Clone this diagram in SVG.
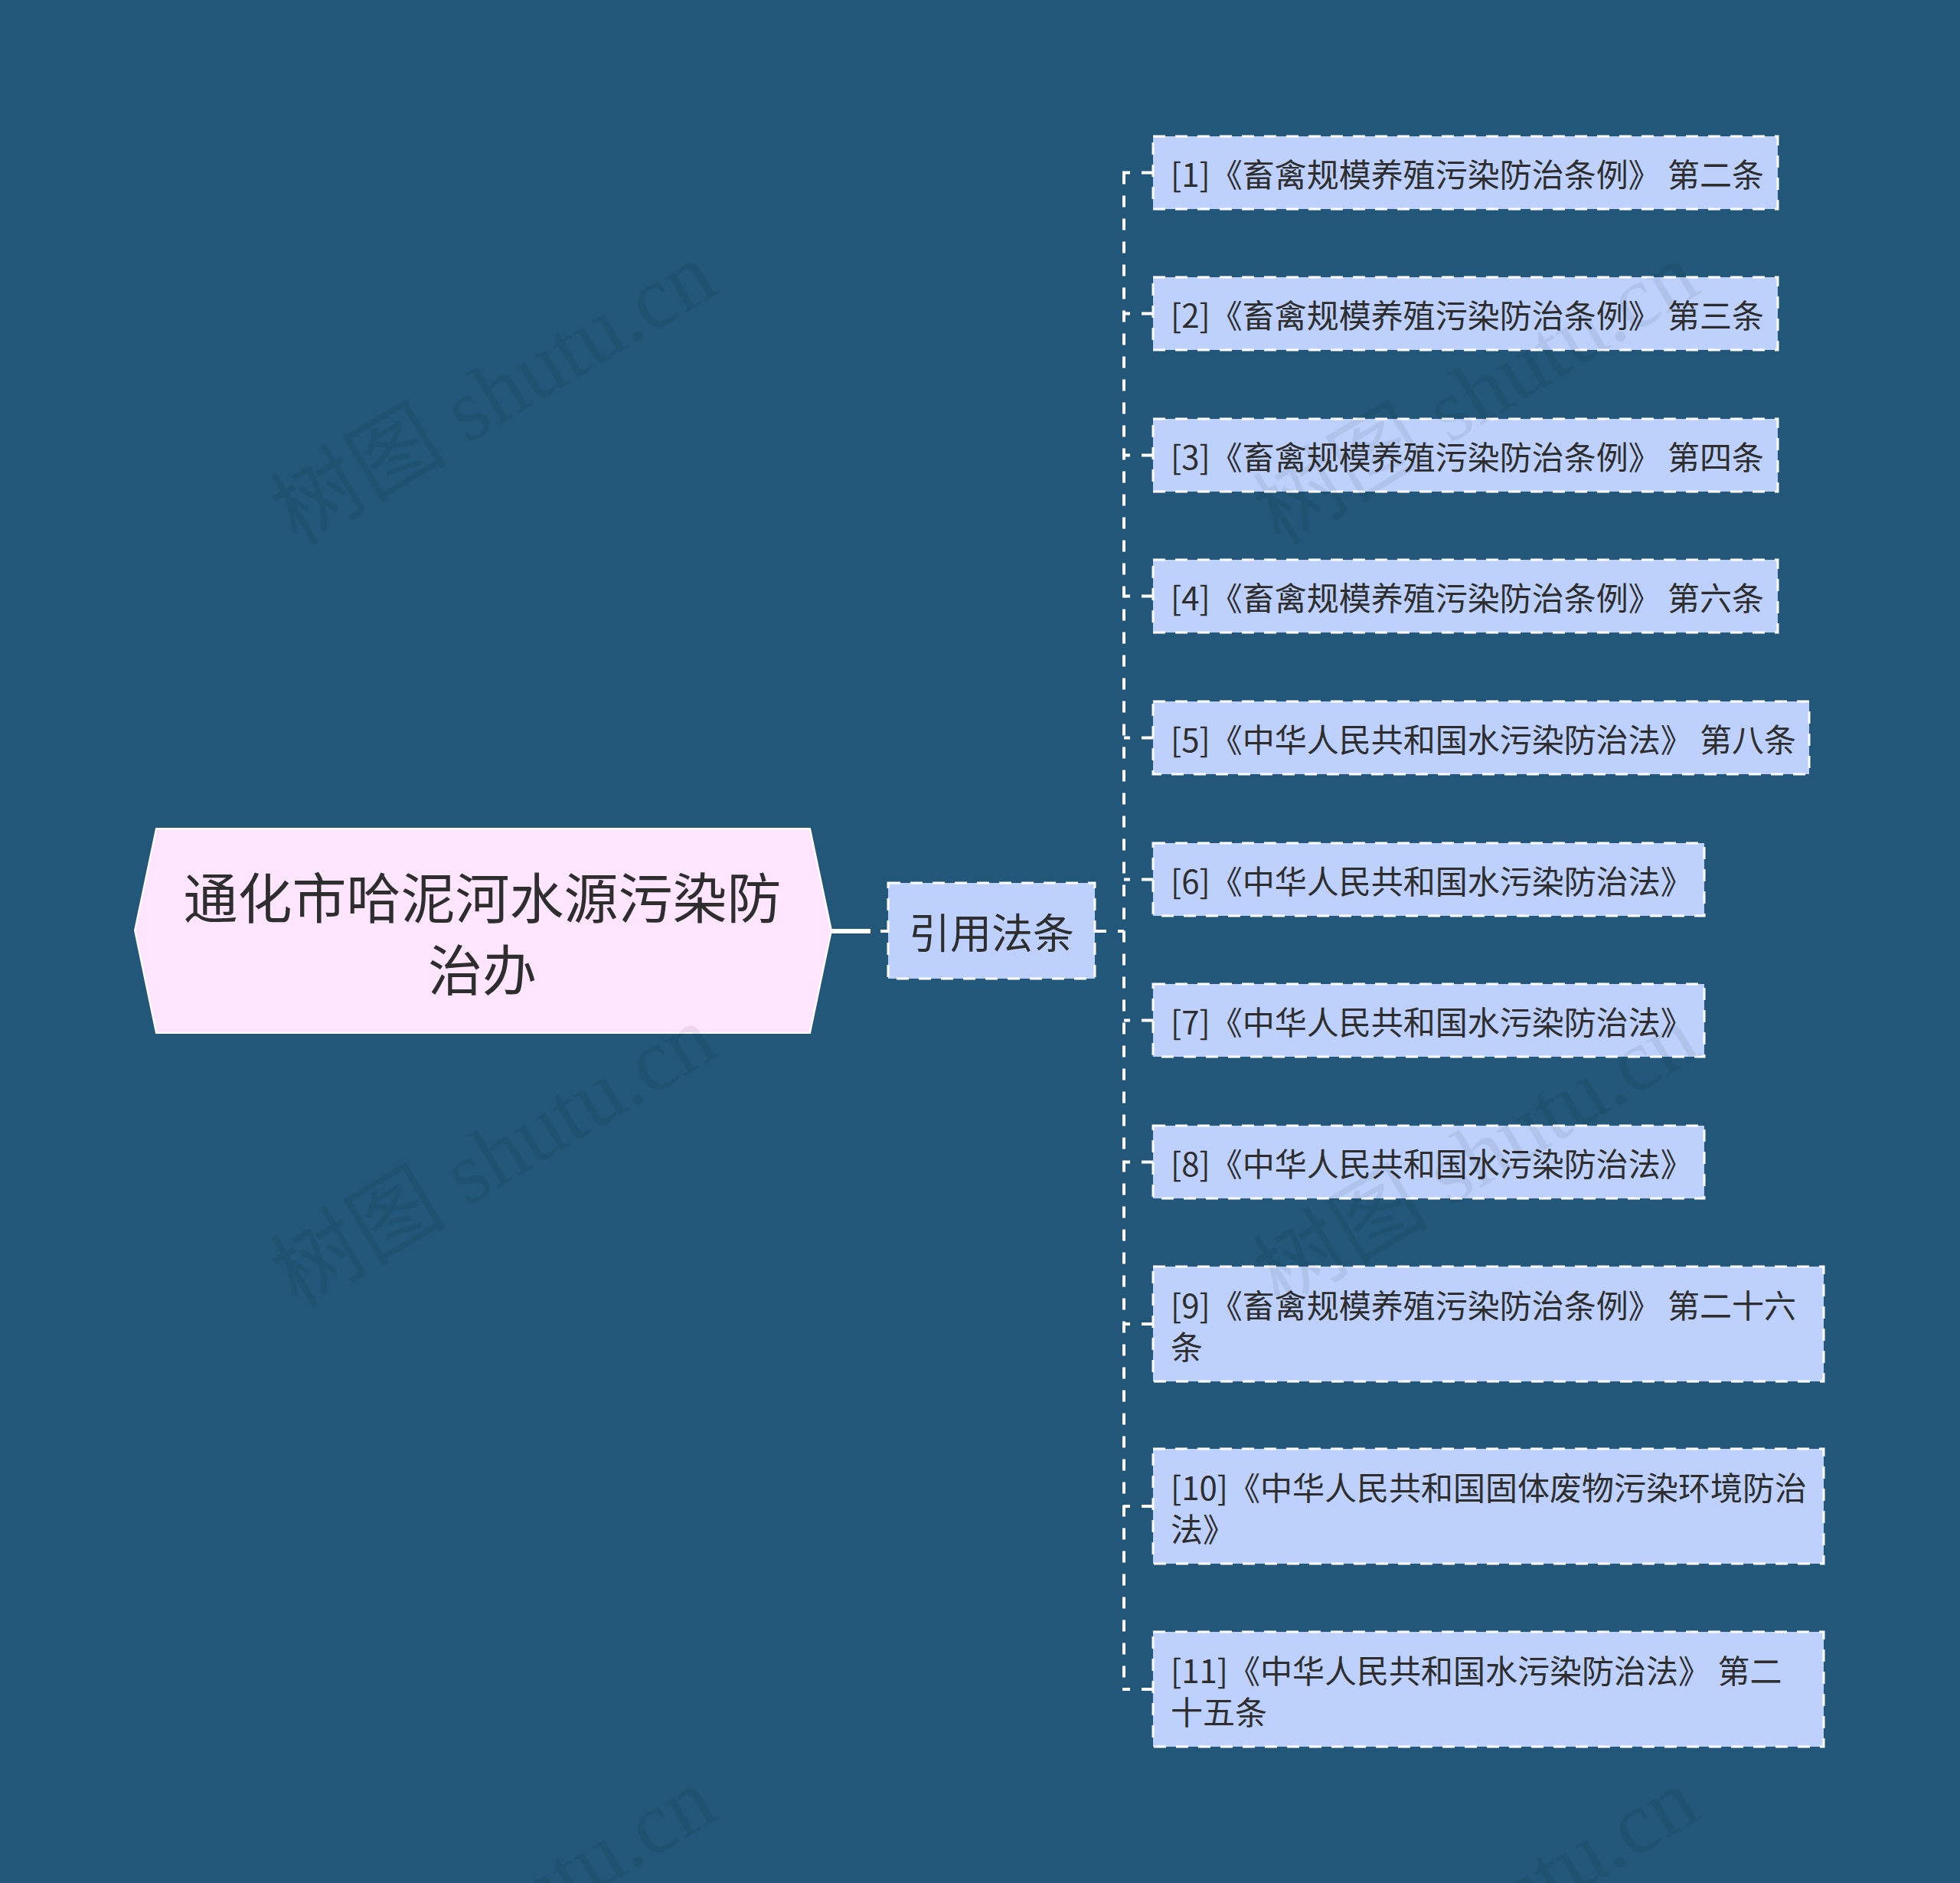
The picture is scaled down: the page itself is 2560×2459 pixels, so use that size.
<svg xmlns="http://www.w3.org/2000/svg" width="2560" height="2459" viewBox="0 0 2560 2459">
<style>
.bg{fill:#22577A}
.leaf{fill:#BDD1FC;stroke:#FFFFFF;stroke-width:3;stroke-dasharray:16 13}
.t{font-family:"Noto Sans CJK SC","Noto Sans",sans-serif;fill:#2E2E2E;dominant-baseline:central}
.lt{font-size:42px}
.conn{fill:none;stroke:#FFFFFF;stroke-width:4;stroke-dasharray:15 15}
.wm{font-family:"Liberation Serif","Noto Sans CJK SC",serif;font-size:115px;fill:#000000;fill-opacity:0.065;text-anchor:middle;dominant-baseline:central}
</style>
<rect class="bg" x="0" y="0" width="2560" height="2459"/>
<g id="connectors">
<line x1="1085" y1="1216" x2="1137" y2="1216" stroke="#FFFFFF" stroke-width="6"/>
<line x1="1150" y1="1216" x2="1160" y2="1216" stroke="#FFFFFF" stroke-width="4"/>
<path class="conn" d="M1430,1216 H1468"/>
<path class="conn" d="M1468,225.5 V2206"/>
<path class="conn" d="M1506,225.5 H1466"/>
<path class="conn" d="M1506,409.5 H1468"/>
<path class="conn" d="M1506,594.5 H1468"/>
<path class="conn" d="M1506,778.5 H1468"/>
<path class="conn" d="M1506,963.5 H1468"/>
<path class="conn" d="M1506,1148.5 H1468"/>
<path class="conn" d="M1506,1332.5 H1468"/>
<path class="conn" d="M1506,1517.5 H1468"/>
<path class="conn" d="M1506,1729 H1468"/>
<path class="conn" d="M1506,1967 H1468"/>
<path class="conn" d="M1506,2206 H1466"/>
</g>
<g id="root">
<polygon points="176,1215 204,1082 1058,1082 1086,1215 1058,1349 204,1349" fill="#FFE5FF" stroke="#FFFFFF" stroke-width="2"/>
<text class="t" font-size="71" text-anchor="middle" x="630" y="1168">通化市哈泥河水源污染防</text>
<text class="t" font-size="71" text-anchor="middle" x="630" y="1262">治办</text>
</g>
<g id="n-yinyong">
<rect class="leaf" x="1160" y="1153" width="270" height="125"/>
<text class="t" font-size="54" x="1295" y="1215" text-anchor="middle">引用法条</text>
</g>
<g id="c1">
<rect class="leaf" x="1506" y="178" width="816" height="95"/>
<text class="t lt" x="1529" y="225.5">[1]《畜禽规模养殖污染防治条例》 第二条</text>
</g>
<g id="c2">
<rect class="leaf" x="1506" y="362" width="816" height="95"/>
<text class="t lt" x="1529" y="409.5">[2]《畜禽规模养殖污染防治条例》 第三条</text>
</g>
<g id="c3">
<rect class="leaf" x="1506" y="547" width="816" height="95"/>
<text class="t lt" x="1529" y="594.5">[3]《畜禽规模养殖污染防治条例》 第四条</text>
</g>
<g id="c4">
<rect class="leaf" x="1506" y="731" width="816" height="95"/>
<text class="t lt" x="1529" y="778.5">[4]《畜禽规模养殖污染防治条例》 第六条</text>
</g>
<g id="c5">
<rect class="leaf" x="1506" y="916" width="857" height="95"/>
<text class="t lt" x="1529" y="963.5">[5]《中华人民共和国水污染防治法》 第八条</text>
</g>
<g id="c6">
<rect class="leaf" x="1506" y="1101" width="720" height="95"/>
<text class="t lt" x="1529" y="1148.5">[6]《中华人民共和国水污染防治法》</text>
</g>
<g id="c7">
<rect class="leaf" x="1506" y="1285" width="720" height="95"/>
<text class="t lt" x="1529" y="1332.5">[7]《中华人民共和国水污染防治法》</text>
</g>
<g id="c8">
<rect class="leaf" x="1506" y="1470" width="720" height="95"/>
<text class="t lt" x="1529" y="1517.5">[8]《中华人民共和国水污染防治法》</text>
</g>
<g id="c9">
<rect class="leaf" x="1506" y="1654" width="876" height="150"/>
<text class="t lt" x="1529" y="1702">[9]《畜禽规模养殖污染防治条例》 第二十六</text>
<text class="t lt" x="1529" y="1756">条</text>
</g>
<g id="c10">
<rect class="leaf" x="1506" y="1892" width="876" height="150"/>
<text class="t lt" x="1529" y="1940">[10]《中华人民共和国固体废物污染环境防治</text>
<text class="t lt" x="1529" y="1994">法》</text>
</g>
<g id="c11">
<rect class="leaf" x="1506" y="2131" width="876" height="150"/>
<text class="t lt" x="1529" y="2179">[11]《中华人民共和国水污染防治法》 第二</text>
<text class="t lt" x="1529" y="2233">十五条</text>
</g>
<g id="watermarks">
<text class="wm" transform="translate(645,514) rotate(-31)">树图 shutu.cn</text>
<text class="wm" transform="translate(1928,514) rotate(-31)">树图 shutu.cn</text>
<text class="wm" transform="translate(645,1510) rotate(-31)">树图 shutu.cn</text>
<text class="wm" transform="translate(1928,1510) rotate(-31)">树图 shutu.cn</text>
<text class="wm" transform="translate(645,2506) rotate(-31)">树图 shutu.cn</text>
<text class="wm" transform="translate(1928,2506) rotate(-31)">树图 shutu.cn</text>
</g>
</svg>
